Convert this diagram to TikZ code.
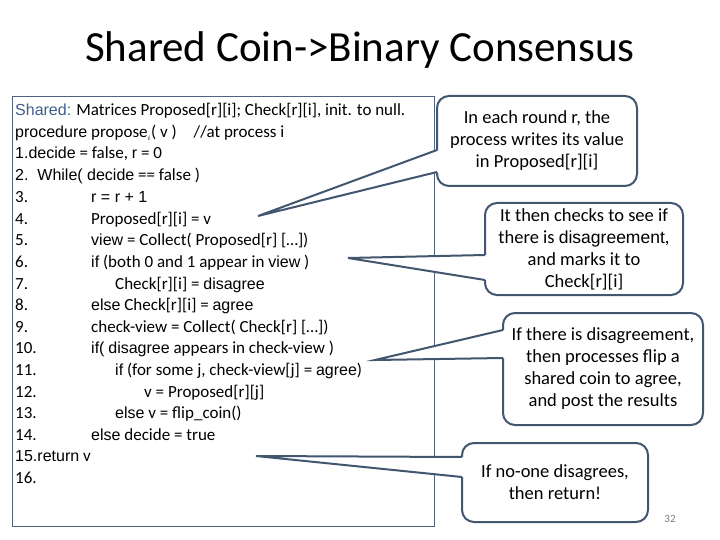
\documentclass[tikz,border=0pt]{standalone}
\usepackage{fontspec}
\setmainfont{Carlito}
\newfontfamily\arialf{Liberation Sans}
\definecolor{edge}{RGB}{66,86,112}
\definecolor{codeedge}{RGB}{80,100,130}
\definecolor{sharedc}{RGB}{60,95,140}
\begin{document}
\begin{tikzpicture}[x=1pt,y=-1pt,
  cl/.style={anchor=base west,inner sep=0pt,font=\fontsize{17}{19}\selectfont},
  callbox/.style={draw=edge,line width=2pt,rounded corners=12pt,fill=white,align=center,font=\fontsize{18.5}{22}\selectfont,inner sep=0pt},
  ptr/.style={draw=edge,line width=2pt,line join=miter}]
\useasboundingbox (0,0) rectangle (720,540);
\fill[white] (0,0) rectangle (720,540);
\node[font=\fontsize{43}{46}\selectfont] (title) at (360,50) {Shared Coin->Binary Consensus};
\draw[codeedge,line width=0.8pt] (12,96) rectangle (434,526);
\newcommand{\A}[1]{{\fontsize{16}{19}\arialf #1}}
\node[cl] (l0) at (15,116) {\A{\color{sharedc}Shared:} Matrices Proposed[r][i]; Check[r][i], init. to null.};
\node[cl] (l1) at (15,137.5) {\A{procedure} propose$_{\scriptscriptstyle i}$( v )\quad //at process i};
\node[cl] (l2) at (15,159) {\A{1.decide} = false, \A{r} = 0};
\node[cl] (l3) at (15,181) {\A{2.\ \ While( decide} == false )};
\foreach \n [count=\k from 3] in {3,4,5,6,7,8,9,10,11,12,13,14}{
  \node[cl] (n\n) at (15,{181+21.6*(\k-2)}) {\n.};
}
\node[cl] at (91,202.6) {\A{r = r + 1}};
\node[cl] (p4) at (91,224.2) {Proposed[r][i] = v};
\node[cl] at (91,245.8) {\A{view} = Collect( Proposed[r] [\dots])};
\node[cl] (p6) at (91,267.4) {\A{if} (both 0 and 1 appear in \A{view} )};
\node[cl] at (115,289) {Check[r][i] = \A{disagree}};
\node[cl] at (91,310.6) {\A{else} Check[r][i] = \A{agree}};
\node[cl] at (91,332.2) {check-view = Collect( Check[r] [\dots])};
\node[cl] at (91,353.8) {\A{if(} \A{disagree} appears in check-view )};
\node[cl] (p11) at (115,375.4) {\A{if} (for some j, check-view[j] = \A{agree})};
\node[cl] at (144,397) {v = Proposed[r][j]};
\node[cl] at (115,418.6) {\A{else} v = flip\_coin()};
\node[cl] at (91,440.2) {\A{else} decide = true};
\node[cl] (p15) at (15,461.8) {\A{15.return} v};
\node[cl] at (15,483.4) {16.};
% callouts
\coordinate (t1) at (258,216);
\coordinate (t2) at (348,258);
\coordinate (t3) at (375,360);
\coordinate (t4) at (256,456);
\node[callbox,minimum width=200pt,minimum height=90pt] (c1) at (537,141) {In each round r, the\\process writes its value\\in Proposed[r][i]};
\fill[white] (t1) -- (439,150) -- (439,172) -- cycle;
\draw[ptr] (437,150) -- (t1) -- (437,172);
\node[callbox,minimum width=198pt,minimum height=92pt] (c2) at (584,249) {It then checks to see if\\there is \A{\fontsize{17.5}{22}\selectfont disagreement},\\and marks it to\\Check[r][i]};
\fill[white] (t2) -- (487,255) -- (487,280) -- cycle;
\draw[ptr] (485,255) -- (t2) -- (485,280);
\node[callbox,minimum width=200pt,minimum height=112pt] (c3) at (603,369) {If there is disagreement,\\then processes flip a\\shared coin to agree,\\and post the results};
\fill[white] (t3) -- (505,330) -- (505,358) -- cycle;
\draw[ptr] (503,330) -- (t3) -- (503,358);
\node[callbox,minimum width=186pt,minimum height=79pt] (c4) at (555,482.5) {If no-one disagrees,\\then return!};
\fill[white] (t4) -- (464,457) -- (464,477) -- cycle;
\draw[ptr] (462,457) -- (t4) -- (462,477);
\node[font=\fontsize{11}{12}\selectfont,text=gray] (pg) at (670,519) {32};
\end{tikzpicture}
\end{document}
